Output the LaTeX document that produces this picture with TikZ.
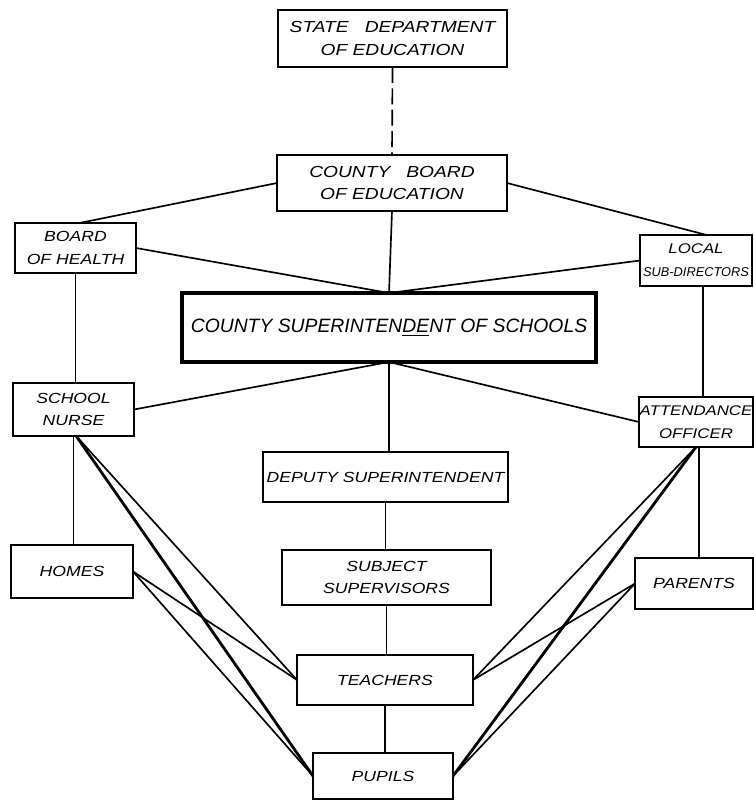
\documentclass[tikz,border=0pt]{standalone}
\usepackage{fontspec}
\newfontfamily\hand[FakeStretch=1.2]{Liberation Sans}
\newfontfamily\handn{Liberation Sans}
\usetikzlibrary{calc}
\tikzset{
  box/.style={draw, line width=1.7pt, inner sep=0pt, outer sep=0pt, align=center},
  bigbox/.style={box, line width=2.6pt},
  conn/.style={line width=1.25pt},
  heavy/.style={line width=2.1pt},
  dashconn/.style={line width=1.25pt, dash pattern=on 12pt off 4pt},
  fsmall/.style={font=\fontsize{11}{17}\selectfont\hand\itshape},
  fside/.style={font=\fontsize{10.5}{17}\selectfont\hand\itshape},
  ftop/.style={font=\fontsize{12}{17}\selectfont\hand\itshape},
}
\begin{document}
\begin{tikzpicture}[x=0.75pt,y=-0.75pt]
\useasboundingbox (0,0) rectangle (753,802);

% nodes
\node[box, ftop, minimum width=171.75pt, minimum height=42.75pt] (state) at (392.5,38.5) {STATE\quad DEPARTMENT\\OF EDUCATION};
\node[box, ftop, minimum width=172.5pt, minimum height=42pt] (county) at (392,183) {COUNTY\quad BOARD\\OF EDUCATION};
\node[box, fsmall, minimum width=90.75pt, minimum height=37.5pt] (boh) at (75.5,248) {BOARD\\OF HEALTH};
\node[box, fside, text width=84pt, minimum height=38.25pt] (local) at (696,260.5) {LOCAL\\\mbox{\handn\fontsize{9.6}{17}\selectfont\itshape SUB-DIRECTORS}};
\node[bigbox, font=\fontsize{14.5}{17}\selectfont\handn\itshape, minimum width=310.5pt, minimum height=51.75pt] (super) at (389,327.5) {COUNTY SUPERINTEN\underline{DE}NT OF SCHOOLS};
\node[box, fsmall, minimum width=90.75pt, minimum height=39.75pt] (nurse) at (73.5,409.5) {SCHOOL\\NURSE};
\node[box, fside, text width=85.5pt, minimum height=37.5pt] (att) at (696,422) {\mbox{ATTENDANCE}\\OFFICER};
\node[box, fsmall, minimum width=183.75pt, minimum height=37.5pt] (deputy) at (385.5,477) {DEPUTY SUPERINTENDENT};
\node[box, fsmall, minimum width=91.5pt, minimum height=39.75pt] (homes) at (72,571.5) {HOMES};
\node[box, fsmall, minimum width=156.75pt, minimum height=41.25pt] (subject) at (386.5,577.5) {SUBJECT\\SUPERVISORS};
\node[box, fsmall, minimum width=88.5pt, minimum height=38.25pt] (parents) at (694,583.5) {PARENTS};
\node[box, fsmall, minimum width=132pt, minimum height=37.5pt] (teachers) at (385,680) {TEACHERS};
\node[box, fsmall, minimum width=105pt, minimum height=34.5pt] (pupils) at (383,776) {PUPILS};

% connectors
\draw[dashconn] (state.south) -- (county.north);
\draw[conn] (county.west) -- ([xshift=3pt]boh.north);
\draw[conn] (county.east) -- ([xshift=8pt]local.north);
\draw[conn] (county.south) -- (super.north);
\draw[conn] (boh.east) -- (super.north);
\draw[conn] (local.west) -- (super.north);
\draw[conn] (super.south) -- (nurse.east);
\draw[conn] (super.south) -- (att.west);
\draw[conn] (super.south) -- (super.south |- deputy.north);
\draw[conn] (deputy.south) -- (deputy.south |- subject.north);
\draw[conn] (subject.south) -- (subject.south |- teachers.north);
\draw[conn] (teachers.south) -- (teachers.south |- pupils.north);
\draw[conn] (boh.south) -- (boh.south |- nurse.north);
\draw[conn] (nurse.south) -- (nurse.south |- homes.north);
\draw[conn] ([xshift=5pt]local.south) -- ([xshift=5pt]local.south |- att.north);
\draw[conn] ([xshift=2pt]att.south) -- ([xshift=2pt]att.south |- parents.north);

\draw[conn] ([xshift=2pt]nurse.south) -- (teachers.west);
\draw[heavy] ([xshift=2pt]nurse.south) -- (pupils.west);
\draw[conn] (homes.east) -- (teachers.west);
\draw[conn] (homes.east) -- (pupils.west);
\draw[conn] (att.south) -- (teachers.east);
\draw[heavy] (att.south) -- (pupils.east);
\draw[conn] (parents.west) -- (teachers.east);
\draw[conn] (parents.west) -- (pupils.east);
\end{tikzpicture}
\end{document}
